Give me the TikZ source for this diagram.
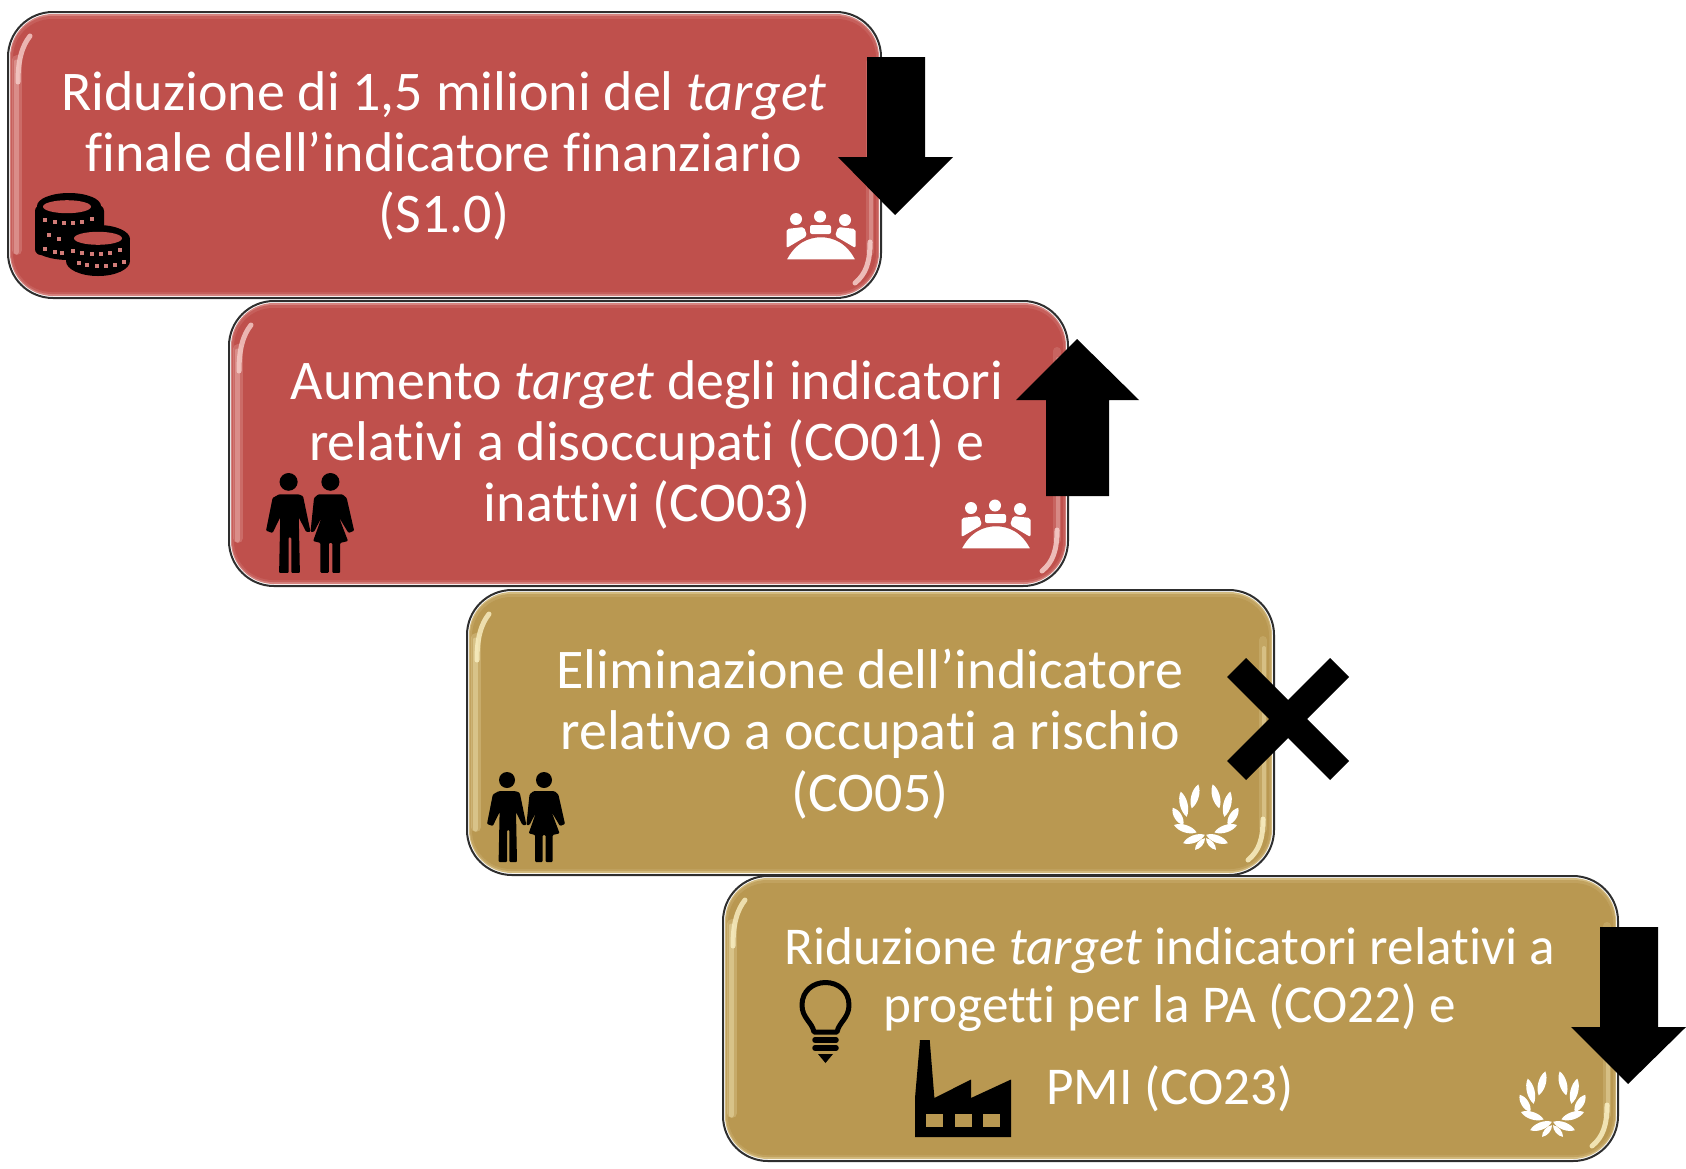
\documentclass[tikz,border=0pt]{standalone}
\usepackage{fontspec}
\setmainfont[Ligatures=NoCommon]{Carlito}
\definecolor{redbase}{HTML}{BF504C}
\definecolor{redhi}{HTML}{F6CFCB}
\definecolor{goldbase}{HTML}{B99851}
\definecolor{goldhi}{HTML}{FAF0C4}
\newcommand{\glossbox}[6]{%
  \fill[white,draw=black!82,line width=2pt,rounded corners=45pt] (#1,#2) rectangle (#3,#4);
  \fill[#5!60!#6,rounded corners=43pt] ({#1+2},{#2+2}) rectangle ({#3-2},{#4-2});
  \fill[#5!88!#6,rounded corners=41pt] ({#1+3},{#2+4}) rectangle ({#3-3},{#4-4});
  \fill[#5,rounded corners=39pt] ({#1+5},{#2+7}) rectangle ({#3-5},{#4-6});
  \draw[#6,line width=10pt,opacity=.22,line cap=round] ({#1+9},{#2+48}) -- ({#1+9},{#4-48});
  \draw[#6,line width=5pt,opacity=.35,line cap=round] ({#1+8},{#2+50}) -- ({#1+8},{#4-46});
  \draw[#6,line width=5pt,opacity=.8,line cap=round] ({#1+10},{#2+70}) .. controls ({#1+10},{#2+48}) and ({#1+14},{#2+34}) .. ({#1+22},{#2+24});
  \draw[#6,line width=8pt,opacity=.16,line cap=round] ({#3-11},{#2+50}) -- ({#3-11},{#4-46});
  \draw[#6,line width=4pt,opacity=.35,line cap=round] ({#3-10},{#2+58}) -- ({#3-10},{#4-50});
  \draw[#6,line width=5pt,opacity=.85,line cap=round] ({#3-11},{#4-56}) .. controls ({#3-11},{#4-36}) and ({#3-15},{#4-24}) .. ({#3-26},{#4-15});
}
\newcommand{\lensleaf}[5]{\fill[white,shift={(#1,#2)},rotate=#3] (-#4,0) .. controls ({-#4/2},#5) and ({#4/2},#5) .. (#4,0) .. controls ({#4/2},-#5) and ({-#4/2},-#5) .. (-#4,0) -- cycle;}
\tikzset{
  boxtext/.style={text=white,align=center,inner sep=0pt,font=\fontsize{56}{61.3}\selectfont},
  boxtextsmall/.style={boxtext,font=\fontsize{53.2}{61.3}\selectfont},
  bigarrow/.style={fill=black,draw=none},
  pics/couple/.style={code={
    \fill[black] (20,8) circle[radius=8];
    \fill[black] (57,8) circle[radius=8];
    \fill[black,rounded corners=1pt] (11.6,19.2) -- (29,19.2) -- (32.8,20.9) -- (39.4,53) -- (35.5,53) -- (29,40) -- (30,90) -- (22.4,90) -- (22.4,58) -- (20,58) -- (20,90) -- (11.6,90) -- (12.6,40) -- (5.8,54) -- (0,52) -- (5.8,22.5) -- cycle;
    \fill[black,rounded corners=1pt] (46.3,19.2) -- (67.6,19.2) -- (71.4,22.5) -- (78,52) -- (73,54) -- (64.6,40) -- (72.6,61.3) -- (65.6,63) -- (65.6,90) -- (58.7,90) -- (58.7,63) -- (55.6,63) -- (55.6,90) -- (48.2,90) -- (48.2,63) -- (41.7,61.3) -- (49.2,40) -- (42.5,53) -- (39.4,53) -- (42.5,22.5) -- cycle;
  }},
  pics/meeting/.style={code={
    \fill[white] (34,6.5) circle[radius=6];
    \fill[white] (10,9) circle[radius=6];
    \fill[white] (59,10) circle[radius=6];
    \fill[white,rounded corners=2pt] (24,24) -- (24,15) -- (45,15) -- (45,24) -- cycle;
    \fill[white,rounded corners=2pt] (0.5,38) -- (0.5,19) -- (18,17) -- (21,26) -- cycle;
    \fill[white,rounded corners=2pt] (69.5,38) -- (69.5,19) -- (52,17) -- (49,26) -- cycle;
    \path[fill=white,draw=redbase,line width=2.5pt] (-1,50.5) .. controls (8,32) and (22,26) .. (35,26) .. controls (48,26) and (62,32) .. (71,50.5) -- cycle;
  }},
  pics/wreath/.style={code={
    \foreach \m in {1,-1}{
      \begin{scope}[shift={(33.5,0)},xscale=\m]
        \lensleaf{-10.5}{12.3}{74.6}{12.4}{5}
        \lensleaf{-21.8}{20.2}{103.5}{12.9}{5.2}
        \lensleaf{-27.5}{32.4}{121.5}{10.1}{5}
        \lensleaf{-20.2}{44.7}{162}{11.9}{5}
        \lensleaf{-11.5}{55}{201}{11.6}{5}
        \lensleaf{-5.5}{60}{229.5}{7.7}{3.6}
      \end{scope}
    }
  }},
  pics/bulb/.style={code={
    \draw[black,line width=5pt,line join=round] (15,52) .. controls (13,42) and (3,38) .. (3,25) .. controls (3,11) and (14,2.5) .. (26.5,2.5) .. controls (39,2.5) and (50,11) .. (50,25) .. controls (50,38) and (40,42) .. (38,52) -- cycle;
    \draw[black,line width=5.5pt,line cap=round] (16,60) -- (37,60);
    \draw[black,line width=5.5pt,line cap=round] (16,68) -- (37,68);
    \fill[black] (19,74) -- (34,74) -- (26.5,83) -- cycle;
  }},
  pics/factory/.style={code={
    \fill[black] (5,0) -- (14.7,0) -- (19.4,58) -- (56,39.5) -- (56,58) -- (96,39.5) -- (96,97) -- (0,97) -- (0,58) -- cycle;
    \fill[goldbase] (11,74) rectangle (28,87);
    \fill[goldbase] (39.5,74) rectangle (57,87);
    \fill[goldbase] (68,74) rectangle (85,87);
  }},
  pics/coins/.style={code={
    \fill[black] (34,13) ellipse[x radius=32,y radius=13];
    \fill[black,rounded corners=6pt] (0,12) rectangle (69,62);
    \fill[black] (34,55) ellipse[x radius=34,y radius=12];
    \fill[redbase] (32,13.7) ellipse[x radius=24,y radius=6.5];
    \foreach \p/\q in {10/27,20/29,29/30,38/30,47/29,57/26,14/42,24/46,10/56,20/59,27/60}
      \fill[redhi!35!redbase] ({\p-2.2},{\q-2.2}) rectangle ({\p+2.2},{\q+2.2});
    \fill[black] (63,46) ellipse[x radius=32,y radius=14];
    \fill[black] (31,46) rectangle (95,68);
    \fill[black] (63,68) ellipse[x radius=32,y radius=15];
    \fill[redbase] (63,45.3) ellipse[x radius=24,y radius=6.5];
    \foreach \p/\q in {38/58,47/60,57/61,66/61,75/60,85/57,44/70,52/72,62/73,71/73,80/72,89/69}
      \fill[redhi!35!redbase] ({\p-2.2},{\q-2.2}) rectangle ({\p+2.2},{\q+2.2});
  }}
}
\begin{document}
\begin{tikzpicture}[x=1pt,y=-1pt]
\useasboundingbox (0,0) rectangle (1686,1168);
% box 1
\glossbox{8}{12}{881}{298}{redbase}{redhi}
\node[boxtext] (t1) at (444,156) {Riduzione di 1,5 milioni del \textit{target}\\finale dell’indicatore finanziario\\(S1.0)};
\pic at (35,193) {coins};
\pic at (786,210) {meeting};
\fill[bigarrow] (867,57) -- (925,57) -- (925,157) -- (953,157) -- (895,215) -- (838,157) -- (867,157) -- cycle;
% box 2
\glossbox{229}{301}{1068}{586}{redbase}{redhi}
\node[boxtext] (t2) at (647,445) {Aumento \textit{target} degli indicatori\\relativi a disoccupati (CO01) e\\inattivi (CO03)};
\pic[xscale=1.13,yscale=1.11] at (266,473) {couple};
\pic at (961,499) {meeting};
\fill[bigarrow] (1077,339) -- (1139,400) -- (1109,400) -- (1109,496) -- (1046,496) -- (1046,400) -- (1016,400) -- cycle;
% box 3
\glossbox{467}{590}{1274}{875}{goldbase}{goldhi}
\node[boxtext] (t3) at (870,734) {Eliminazione dell’indicatore\\relativo a occupati a rischio\\(CO05)};
\pic at (487,772) {couple};
\pic at (1172,784) {wreath};
\fill[bigarrow] (1246,658) -- (1288,700) -- (1330,658) -- (1349,677) -- (1307,719) -- (1349,761) -- (1330,780) -- (1288,738) -- (1246,780) -- (1227,761) -- (1269,719) -- (1227,677) -- cycle;
% box 4
\glossbox{723}{876}{1618}{1161}{goldbase}{goldhi}
\node[boxtextsmall] (t4) at (1170,951) {Riduzione \textit{target} indicatori relativi a};
\node[boxtextsmall] (t5) at (1170,1008) {progetti per la PA (CO22) e};
\node[boxtextsmall] (t6) at (1170,1089) {PMI (CO23)};
\pic at (799,980) {bulb};
\pic at (915,1040) {factory};
\pic at (1519,1071) {wreath};
\fill[bigarrow] (1600,927) -- (1658,927) -- (1658,1027) -- (1686,1027) -- (1628,1084) -- (1571,1027) -- (1600,1027) -- cycle;
\end{tikzpicture}
\end{document}
